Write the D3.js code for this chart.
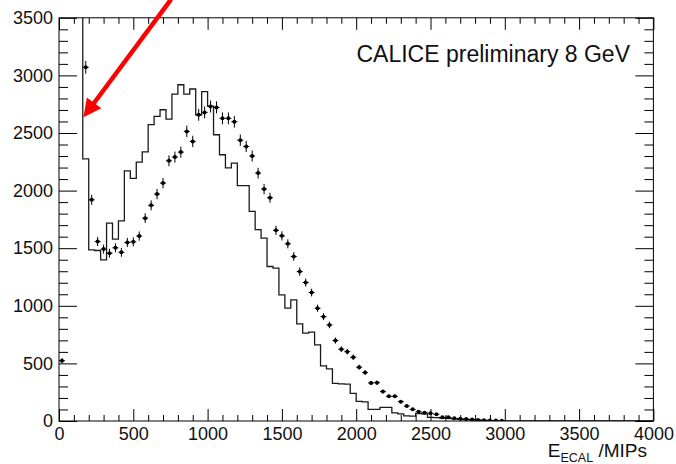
<!DOCTYPE html>
<html>
<head>
<meta charset="utf-8">
<style>
body { margin: 0; background: #fff; }
text { font-family: "Liberation Sans", Arial, Helvetica, sans-serif; }
.tick text { fill: #111; }
.tick line { stroke: #000; }
</style>
<title>E_ECAL</title>
</head>
<body>
<div id="chart"></div>
<script src="https://d3js.org/d3.v7.min.js"></script>
<script>
// bins of 40 MIPs starting at 0; values above 3500 are off the scale
var binWidth = 40;

// simulation, drawn as a step line
var histCounts = [3900, 6800, 14500, 9100, 2276, 1486, 1480, 1399, 1717, 1578,
                  1738, 2172, 2106, 2247, 2336, 2572, 2644, 2702, 2620, 2838,
                  2919, 2838, 2882, 2658, 2860, 2734, 2485, 2311, 2198, 2239,
                  2044, 2044, 1820, 1662, 1587, 1341, 1327, 1095, 979, 1051,
                  843, 762, 771, 660, 478, 452, 327, 323, 320, 240,
                  170, 166, 101, 101, 119, 119, 70, 62, 44, 43,
                  65, 62, 32, 30, 26, 22, 18, 15, 12, 9,
                  7, 5, 4, 3, 2, 1];

// data, drawn as points with errors
var dataCounts = [524, 4200, 13800, 8700, 3070, 1920, 1558, 1492, 1457, 1503,
                  1464, 1550, 1555, 1605, 1761, 1872, 1970, 2065, 2259, 2291,
                  2334, 2514, 2427, 2658, 2679, 2730, 2722, 2627, 2627, 2598,
                  2438, 2383, 2300, 2152, 2013, 1938, 1655, 1607, 1538, 1428,
                  1297, 1202, 1115, 979, 906, 834, 698, 623, 602, 553,
                  467, 420, 330, 333, 255, 214, 214, 168, 130, 101,
                  81, 72, 67, 58, 32, 32, 23, 20, 17, 14,
                  9, 6, 5, 4, 3];

var xTicks = [0, 500, 1000, 1500, 2000, 2500, 3000, 3500, 4000];
var yTicks = [0, 500, 1000, 1500, 2000, 2500, 3000, 3500];

var labelText = "CALICE preliminary 8 GeV";
// arrow in data units: tail (off the top) -> tip
var arrowTail = [754, 3660];
var arrowTip = [164, 2636];

var width = 676, height = 464;

var svg = d3.select("#chart").append("svg")
    .attr("width", width)
    .attr("height", height);

var x = d3.scaleLinear().domain([0, 4000]).range([59, 653.4]);
var y = d3.scaleLinear().domain([0, 3500]).range([421, 17.8]);

var xMinor = d3.range(0, 4001, 100).filter(function(d) { return d % 500; });
var yMinor = d3.range(0, 3501, 100).filter(function(d) { return d % 500; });

svg.append("clipPath").attr("id", "frame")
  .append("rect")
    .attr("x", x(0)).attr("y", y(3500))
    .attr("width", x(4000) - x(0))
    .attr("height", y(0) - y(3500));

// histogram step line
var histPts = histCounts.map(function(v, i) { return [i * binWidth, v]; });
histPts.push([histCounts.length * binWidth, 0]);
histPts.push([4000, 0]);

var step = d3.line()
    .x(function(d) { return x(d[0]); })
    .y(function(d) { return y(d[1]); })
    .curve(d3.curveStepAfter);

svg.append("path")
    .datum(histPts)
    .attr("clip-path", "url(#frame)")
    .attr("d", step)
    .attr("fill", "none")
    .attr("stroke", "#1a1a1a")
    .attr("stroke-width", 1.3);

// data points, only those on scale
var pts = dataCounts.map(function(v, i) {
    return { c: (i + 0.5) * binWidth, v: v, e: Math.sqrt(v) };
  }).filter(function(d) { return d.v > 0 && d.v <= 3500; });

var pg = svg.append("g").attr("clip-path", "url(#frame)");
var pt = pg.selectAll("g").data(pts).enter().append("g");

pt.append("line")
    .attr("x1", function(d) { return x(d.c); })
    .attr("x2", function(d) { return x(d.c); })
    .attr("y1", function(d) { return y(d.v - d.e); })
    .attr("y2", function(d) { return y(d.v + d.e); })
    .attr("stroke", "#000").attr("stroke-width", 1);

pt.append("line")
    .attr("x1", function(d) { return x(d.c - binWidth / 2); })
    .attr("x2", function(d) { return x(d.c + binWidth / 2); })
    .attr("y1", function(d) { return y(d.v); })
    .attr("y2", function(d) { return y(d.v); })
    .attr("stroke", "#000").attr("stroke-width", 1);

pt.append("circle")
    .attr("cx", function(d) { return x(d.c); })
    .attr("cy", function(d) { return y(d.v); })
    .attr("r", 2)
    .attr("fill", "#000");

// axes, ticks pointing inwards on all four sides
function clean(g) {
  g.select(".domain").remove();
  g.attr("font-size", 18).attr("font-family", null);
}

svg.append("g").attr("transform", "translate(" + x(0) + ",0)")
    .call(d3.axisLeft(y).tickValues(yTicks).tickSizeInner(-18).tickSizeOuter(0)
      .tickPadding(6).tickFormat(d3.format("d")))
    .call(clean);
svg.append("g").attr("transform", "translate(" + x(0) + ",0)")
    .call(d3.axisLeft(y).tickValues(yMinor).tickSize(-9).tickFormat(""))
    .call(clean);

svg.append("g").attr("transform", "translate(" + x(4000) + ",0)")
    .call(d3.axisRight(y).tickValues(yTicks).tickSize(-18).tickFormat(""))
    .call(clean);
svg.append("g").attr("transform", "translate(" + x(4000) + ",0)")
    .call(d3.axisRight(y).tickValues(yMinor).tickSize(-9).tickFormat(""))
    .call(clean);

svg.append("g").attr("transform", "translate(0," + y(0) + ")")
    .call(d3.axisBottom(x).tickValues(xTicks).tickSizeInner(-12).tickSizeOuter(0)
      .tickPadding(6).tickFormat(d3.format("d")))
    .call(clean);
svg.append("g").attr("transform", "translate(0," + y(0) + ")")
    .call(d3.axisBottom(x).tickValues(xMinor).tickSize(-6).tickFormat(""))
    .call(clean);

svg.append("g").attr("transform", "translate(0," + y(3500) + ")")
    .call(d3.axisTop(x).tickValues(xTicks).tickSize(-12).tickFormat(""))
    .call(clean);
svg.append("g").attr("transform", "translate(0," + y(3500) + ")")
    .call(d3.axisTop(x).tickValues(xMinor).tickSize(-6).tickFormat(""))
    .call(clean);

// frame
svg.append("rect")
    .attr("x", x(0)).attr("y", y(3500))
    .attr("width", x(4000) - x(0))
    .attr("height", y(0) - y(3500))
    .attr("fill", "none")
    .attr("stroke", "#000")
    .attr("stroke-width", 1);

// x title with subscript
var xt = svg.append("text")
    .attr("x", 647).attr("y", 457.3)
    .attr("text-anchor", "end")
    .attr("font-size", 19)
    .attr("fill", "#111");
xt.append("tspan").text("E");
xt.append("tspan").attr("font-size", 12.5).attr("dy", 4.7).text("ECAL");
xt.append("tspan").attr("dy", -4.7).text(" /MIPs");

svg.append("text")
    .attr("x", 630).attr("y", 61.7)
    .attr("text-anchor", "end")
    .attr("font-size", 23)
    .attr("fill", "#111")
    .text(labelText);

// red arrow
var ax0 = x(arrowTail[0]), ay0 = y(arrowTail[1]);
var ax1 = x(arrowTip[0]), ay1 = y(arrowTip[1]);
var len = Math.hypot(ax1 - ax0, ay1 - ay0);
var ux = (ax1 - ax0) / len, uy = (ay1 - ay0) / len;
var headLen = 18, headHalf = 9;
var bx = ax1 - ux * headLen, by = ay1 - uy * headLen;

svg.append("line")
    .attr("x1", ax0).attr("y1", ay0)
    .attr("x2", bx + ux * 2).attr("y2", by + uy * 2)
    .attr("stroke", "#ff0000")
    .attr("stroke-width", 4.5);

svg.append("path")
    .attr("d", "M" + ax1 + "," + ay1 +
               "L" + (bx - uy * headHalf) + "," + (by + ux * headHalf) +
               "L" + (bx + uy * headHalf) + "," + (by - ux * headHalf) + "Z")
    .attr("fill", "#ff0000");
</script>
</body>
</html>
